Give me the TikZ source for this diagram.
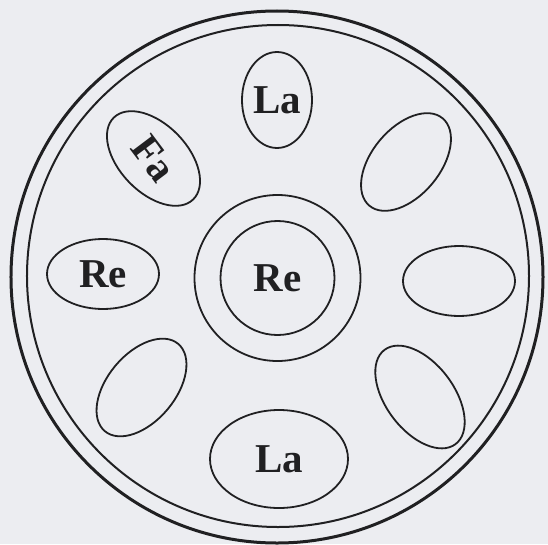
\documentclass[tikz,border=0pt]{standalone}
\usepackage{fontspec}
\setmainfont{Liberation Serif}
\usetikzlibrary{shapes.geometric}
\definecolor{paper}{RGB}{236,237,241}
\definecolor{ink}{RGB}{32,32,34}
\tikzset{
  pad/.style={ellipse,draw=ink,line width=1.8pt,inner sep=0pt,text=ink,
    font=\fontsize{41}{41}\selectfont\bfseries},
}
\begin{document}
\begin{tikzpicture}[x=1pt,y=1pt]
  \fill[paper] (-277,-267) rectangle (271,277);
  \useasboundingbox (-277,-267) rectangle (271,277);
  % rim
  \draw[ink,line width=3pt] (0,0) circle (266);
  \draw[ink,line width=2pt] (1,1) circle (251);
  % centre note
  \node[pad,circle,minimum size=166pt] (ding) at (0.5,-1) {};
  \node[pad,circle,minimum size=114pt] (root) at (0.5,-1) {Re};
  % tone fields round the centre
  \node[pad,minimum width=70pt,minimum height=96pt] (laTop) at (0,177) {La};
  \node[pad,minimum width=138pt,minimum height=98pt] (laBot) at (2,-182) {La};
  \node[pad,minimum width=112pt,minimum height=70pt] (reLeft) at (-174,3) {Re};
  \node[pad,minimum width=112pt,minimum height=70pt] (east) at (182,-4) {};
  \node[pad,minimum width=114pt,minimum height=68pt,rotate=-46] (faUL) at (-123.5,118.5) {\rotatebox{-7}{Fa}};
  \node[pad,minimum width=114pt,minimum height=68pt,rotate=50] (northEast) at (129,115) {};
  \node[pad,minimum width=114pt,minimum height=68pt,rotate=50] (southWest) at (-135.5,-110.5) {};
  \node[pad,minimum width=118pt,minimum height=68pt,rotate=-53] (southEast) at (143,-120) {};
\end{tikzpicture}
\end{document}
